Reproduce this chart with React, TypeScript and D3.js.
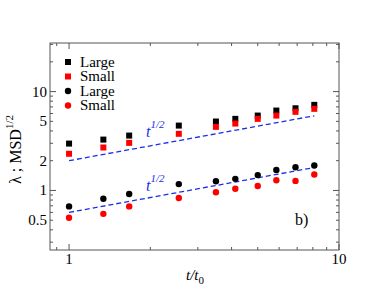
import * as d3 from 'd3'

const times = [1, 1.34, 1.67, 2.55, 3.5, 4.13, 5.0, 5.86, 6.9, 8.1]
const largeSq = [2.98, 3.27, 3.59, 4.53, 4.98, 5.3, 5.72, 6.43, 6.78, 7.34]
const smallSq = [2.35, 2.72, 3.03, 3.74, 4.4, 4.75, 5.3, 5.72, 6.24, 6.69]
const largeCi = [0.69, 0.824, 0.92, 1.16, 1.24, 1.31, 1.43, 1.61, 1.72, 1.79]
const smallCi = [0.53, 0.58, 0.69, 0.838, 0.96, 1.04, 1.11, 1.27, 1.25, 1.45]
const fitPrefactors = [2, 0.6]
const fitRange = [1, 8.1]
const yTickLabels = [0.5, 1, 2, 5, 10]
const xTickLabels = [1, 10]
const xMinor = [0.9, 2, 3, 4, 5, 6, 7, 8, 9]
const yMinor = [0.3, 0.4, 0.5, 0.6, 0.7, 0.8, 0.9, 2, 3, 4, 5, 6, 7, 8, 9, 20, 30]
const legend = [
  { label: 'Large', color: '#000', shape: 'square' },
  { label: 'Small', color: '#ff0000', shape: 'square' },
  { label: 'Large', color: '#000', shape: 'circle' },
  { label: 'Small', color: '#ff0000', shape: 'circle' },
]

const W = 382
const H = 295
const L = 50, R = 339, T = 43, B = 250
const font = 'Liberation Serif'
const axisCol = '#555'
const blue = '#1a2ee8'

export default function App() {
  const x = d3.scaleLog().domain([0.85, 10]).range([L, R])
  const y = d3.scaleLog().domain([0.25, 31]).range([B, T])

  const sq = (t: number, v: number, c: string, k: string) => (
    <rect key={k} x={x(t) - 3} y={y(v) - 3} width={6} height={6} fill={c} />
  )
  const ci = (t: number, v: number, c: string, k: string) => (
    <circle key={k} cx={x(t)} cy={y(v)} r={3.2} fill={c} />
  )

  return (
    <svg width={W} height={H} style={{ position: 'absolute', left: 0, top: 0, background: '#fff', fontFamily: font }}>
      {/* ticks */}
      <g stroke={axisCol} strokeWidth={1}>
        {xTickLabels.map(t => (
          <g key={'xM' + t}>
            <line x1={x(t)} x2={x(t)} y1={B} y2={B - 6} />
            <line x1={x(t)} x2={x(t)} y1={T} y2={T + 6} />
          </g>
        ))}
        {xMinor.map(t => (
          <g key={'xm' + t}>
            <line x1={x(t)} x2={x(t)} y1={B} y2={B - 3} />
            <line x1={x(t)} x2={x(t)} y1={T} y2={T + 3} />
          </g>
        ))}
        {[1, 10].map(v => (
          <g key={'yM' + v}>
            <line x1={L} x2={L + 6} y1={y(v)} y2={y(v)} />
            <line x1={R} x2={R - 6} y1={y(v)} y2={y(v)} />
          </g>
        ))}
        {yMinor.map(v => (
          <g key={'ym' + v}>
            <line x1={L} x2={L + 3} y1={y(v)} y2={y(v)} />
            <line x1={R} x2={R - 3} y1={y(v)} y2={y(v)} />
          </g>
        ))}
      </g>
      <rect x={L} y={T} width={R - L} height={B - T} fill="none" stroke={axisCol} strokeWidth={1} />

      {/* tick labels */}
      <g fill="#000" style={{ fontFamily: font, fontSize: 15 }}>
        {yTickLabels.map(v => (
          <text key={'yl' + v} x={L - 3} y={y(v) + 5} textAnchor="end">{v}</text>
        ))}
        {xTickLabels.map(t => (
          <text key={'xl' + t} x={x(t)} y={B + 14} textAnchor="middle">{t}</text>
        ))}
      </g>

      {/* axis labels */}
      <text x={195} y={280} textAnchor="middle" style={{ fontFamily: font, fontSize: 15, fontStyle: 'italic' }}>
        t/t<tspan dy={4} style={{ fontSize: 11, fontStyle: 'normal' }}>0</tspan>
      </text>
      <text transform={`translate(21,${(T + B) / 2 + 3}) rotate(-90)`} textAnchor="middle" style={{ fontFamily: font, fontSize: 16 }}>
        λ ; MSD<tspan dy={-8} style={{ fontSize: 11 }}>1/2</tspan>
      </text>

      {/* fit lines */}
      {fitPrefactors.map((a, i) => (
        <line key={'fl' + i}
          x1={x(fitRange[0])} y1={y(a * Math.sqrt(fitRange[0]))}
          x2={x(fitRange[1])} y2={y(a * Math.sqrt(fitRange[1]))}
          stroke={blue} strokeWidth={1.3} strokeDasharray="5,3" />
      ))}
      {fitPrefactors.map((a, i) => (
        <text key={'ft' + i} x={146} y={y(a * Math.sqrt(2.55)) + (i === 0 ? -4 : -1)}
          fill={blue} style={{ fontFamily: font, fontSize: 16, fontStyle: 'italic' }}>
          t<tspan dy={-9} style={{ fontSize: 11, fontStyle: 'italic' }}>1/2</tspan>
        </text>
      ))}

      {/* data */}
      {times.map((t, i) => sq(t, largeSq[i], '#000', 'a' + i))}
      {times.map((t, i) => sq(t, smallSq[i], '#ff0000', 'b' + i))}
      {times.map((t, i) => ci(t, largeCi[i], '#000', 'c' + i))}
      {times.map((t, i) => ci(t, smallCi[i], '#ff0000', 'd' + i))}

      {/* legend */}
      {legend.map((d, i) => {
        const ly = 62 + i * 14.5
        return (
          <g key={'lg' + i}>
            {d.shape === 'square'
              ? <rect x={65} y={ly - 3} width={6} height={6} fill={d.color} />
              : <circle cx={68} cy={ly} r={3.2} fill={d.color} />}
            <text x={80} y={ly + 4.5} style={{ fontFamily: font, fontSize: 15 }}>{d.label}</text>
          </g>
        )
      })}

      <text x={295} y={225} style={{ fontFamily: font, fontSize: 16 }}>b)</text>
    </svg>
  )
}
